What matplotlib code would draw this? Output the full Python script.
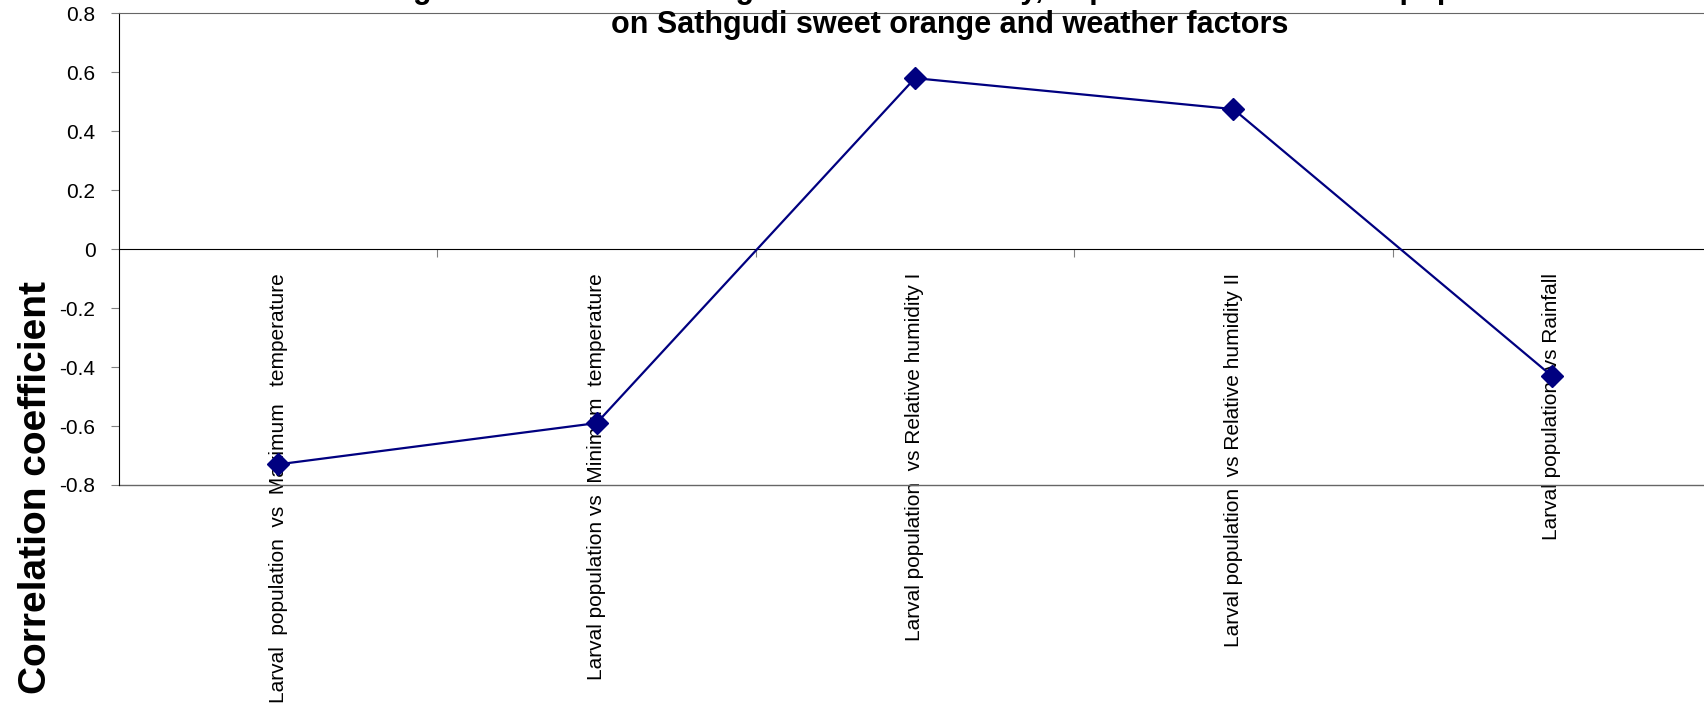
import numpy as np
import matplotlib.pyplot as plt

# datos del grafico
categorias = ['Larval  population  vs  Maximum   temperature',
              'Larval population vs  Minimum  temperature',
              'Larval population  vs Relative humidity I',
              'Larval population  vs Relative humidity II',
              'Larval population  vs Rainfall']
correlacion = [-0.73, -0.59, 0.58, 0.475, -0.43]
yticks = [-0.8, -0.6, -0.4, -0.2, 0, 0.2, 0.4, 0.6, 0.8]
titulo1 = 'Fig. 2. Correlation among the lemon butterfly, Papilio demoleus larval population'
titulo2 = 'on Sathgudi sweet orange and weather factors'

plt.rcParams['font.family'] = ['Liberation Sans', 'DejaVu Sans']

W, H = 1704, 709
fig = plt.figure(figsize=(W / 100, H / 100), dpi=100)
ax = fig.add_axes([119 / W, 1 - 485 / H, (1711 - 119) / W, (485 - 13.3) / H])

x = np.arange(len(categorias))
ax.plot(x, correlacion, color='#000080', lw=1.6, marker='D', ms=11,
        mfc='#000080', mec='#000080', zorder=3, clip_on=False)

ax.set_xlim(-0.5, len(categorias) - 0.5)
ax.set_ylim(-0.8, 0.8)

# eje y
ax.set_yticks(yticks)
ax.set_yticklabels(['%g' % v for v in yticks], fontsize=15)
ax.tick_params(axis='y', direction='out', length=6, color='#808080', pad=11)

# eje de categorias cruzando en cero
ax.spines['bottom'].set_position(('data', 0))
ax.spines['bottom'].set_color('black')
ax.spines['left'].set_color('black')
ax.spines['top'].set_color('#666666')
ax.spines['right'].set_visible(False)
ax.axhline(-0.8, color='#666666', lw=1, clip_on=False)

ax.set_xticks(x[:-1] + 0.5)
ax.set_xticklabels([])
ax.set_xticks(x, minor=True)
ax.set_xticklabels(categorias, minor=True, rotation=90, fontsize=15)
ax.tick_params(axis='x', which='major', direction='out', length=6, color='#808080')
ax.tick_params(axis='x', which='minor', length=0, pad=17)

fig.text(36 / W, 1 - 488 / H, 'Correlation coefficient', rotation=90,
         fontsize=28, fontweight='bold', ha='center', va='center')

# el primer renglon del titulo queda cortado arriba, como en el original
fig.text(971 / W, 1 + 2 / H, titulo1, fontsize=22, fontweight='bold',
         ha='center', va='baseline')
fig.text(950 / W, 1 - 33 / H, titulo2, fontsize=22, fontweight='bold',
         ha='center', va='baseline')

fig.savefig('out.png', dpi=100)
